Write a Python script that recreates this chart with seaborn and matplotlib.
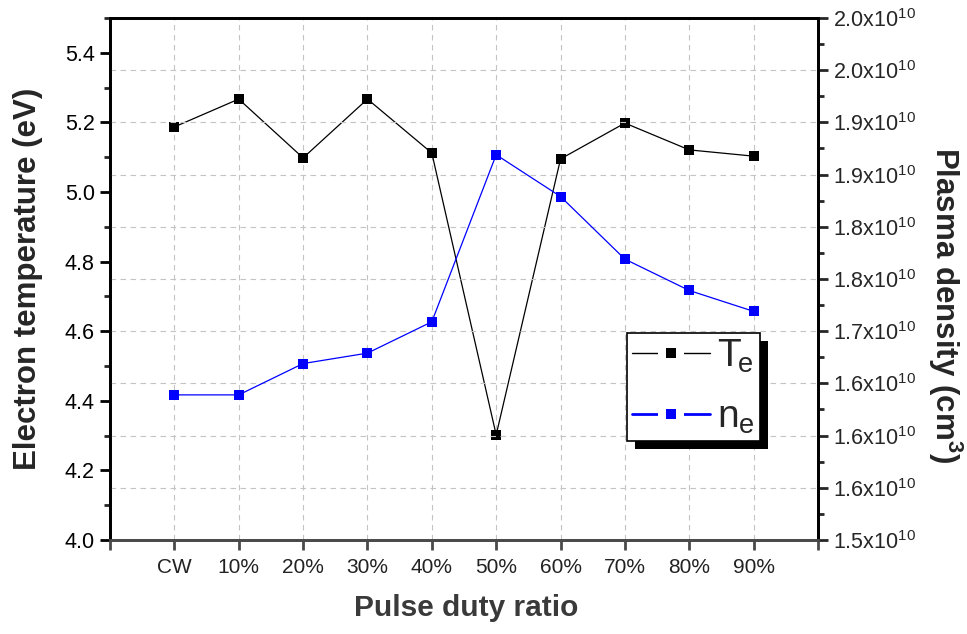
import matplotlib
matplotlib.use("Agg")
import matplotlib.pyplot as plt
import seaborn as sns
import pandas as pd
from matplotlib.patches import Rectangle
from matplotlib.lines import Line2D
from matplotlib.legend_handler import HandlerTuple
from matplotlib.ticker import MultipleLocator, FixedLocator

categories = ["CW", "10%", "20%", "30%", "40%", "50%", "60%", "70%", "80%", "90%"]
te_values = [5.187, 5.267, 5.098, 5.267, 5.112, 4.302, 5.095, 5.198, 5.121, 5.103]
ne_values = [1.639e10, 1.639e10, 1.669e10, 1.679e10, 1.709e10, 1.869e10, 1.829e10, 1.769e10, 1.739e10, 1.719e10]
right_ticks = [1.50e10, 1.55e10, 1.60e10, 1.65e10, 1.70e10, 1.75e10, 1.80e10, 1.85e10, 1.90e10, 1.95e10, 2.00e10]
right_labels = ["1.5", "1.6", "1.6", "1.6", "1.7", "1.8", "1.8", "1.9", "1.9", "2.0", "2.0"]

sns.set_style("white")
plt.rcParams["font.family"] = ["Liberation Sans", "DejaVu Sans"]
plt.rcParams["mathtext.fontset"] = "custom"
plt.rcParams["mathtext.rm"] = "Liberation Sans"
plt.rcParams["mathtext.it"] = "Liberation Sans"
plt.rcParams["mathtext.bf"] = "Liberation Sans:bold"

df = pd.DataFrame({"ratio": categories, "Te": te_values, "ne": ne_values})
df["pos"] = range(len(categories))

fig = plt.figure(figsize=(9.67, 6.34), dpi=100)
ax = fig.add_axes([110/967, 1-540/634, (818-110)/967, (540-18)/634])
ax2 = ax.twinx()

sns.lineplot(data=df, x="pos", y="Te", ax=ax, color="black", marker="s",
             markersize=7.5, markeredgewidth=0, linewidth=0.9, legend=False)
sns.lineplot(data=df, x="pos", y="ne", ax=ax2, color="#0000ff", marker="s",
             markersize=7.5, markeredgewidth=0, linewidth=0.9, legend=False)

ax.set_xlim(-1, len(categories))
ax.set_xticks(range(-1, len(categories) + 1))
ax.set_xticklabels([""] + categories + [""])
ax.set_ylim(4.0, 5.5)
ax.yaxis.set_minor_locator(MultipleLocator(0.1))
ax.set_yticks([4.0, 4.2, 4.4, 4.6, 4.8, 5.0, 5.2, 5.4])

ax2.set_ylim(1.5e10, 2.0e10)
ax2.yaxis.set_major_locator(FixedLocator(right_ticks))
ax2.yaxis.set_minor_locator(FixedLocator([t + 0.025e10 for t in right_ticks[:-1]]))
ax2.set_yticklabels([f"{l}x10$\\mathregular{{^{{10}}}}$" for l in right_labels])

# grid
for xv in range(len(categories)):
    ax.axvline(xv, color="#c4c4c4", linestyle=(0, (5, 4)), linewidth=0.8, zorder=0)
for yv in right_ticks[1:-1]:
    ax2.axhline(yv, color="#c4c4c4", linestyle=(0, (5, 4)), linewidth=0.8, zorder=0)

ax.set_xlabel("Pulse duty ratio", fontsize=21.5, fontweight="bold", color="#3a3a3a")
ax.set_ylabel("Electron temperature (eV)", fontsize=22.5, fontweight="bold")
ax2.set_ylabel("Plasma density (cm$\\mathregular{^{3}}$)", fontsize=22.5, fontweight="bold",
               rotation=270)
for lab in (ax.xaxis.label, ax.yaxis.label, ax2.yaxis.label):
    lab.set_ha("center")
    lab.set_va("center")
ax.xaxis.set_label_coords((466 - 110) / 708, (540 - 608) / 522)
ax.yaxis.set_label_coords((28 - 110) / 708, 0.5)
ax2.yaxis.set_label_coords((945 - 110) / 708, (540 - 305) / 522)

for a in (ax, ax2):
    for s in a.spines.values():
        s.set_linewidth(2.0)
        s.set_color("black")
    a.spines["bottom"].set_color("#4a4a4a")

ax.tick_params(axis="y", which="major", direction="out", length=7, width=2, labelsize=15.5, left=True, right=False, colors="black", pad=4)
ax.tick_params(axis="y", which="minor", direction="out", length=4.5, width=2, left=True, right=False)
ax.tick_params(axis="x", which="major", direction="out", length=7, width=2, labelsize=15, bottom=True, top=False, color="#4a4a4a", labelcolor="#222222", pad=6)
ax2.tick_params(axis="y", which="major", direction="out", length=7, width=2, labelsize=15.5, right=True, left=False, pad=4)
ax2.tick_params(axis="y", which="minor", direction="out", length=4.5, width=2, right=True, left=False)
ax2.set_xlabel("")

# legend keys: line, white gap around a square marker, line (overlaid)
def key(color, lw):
    base = Line2D([], [], color=color, linewidth=lw, marker="s", markersize=19,
                  markerfacecolor="white", markeredgewidth=0)
    mark = Line2D([], [], linestyle="none", marker="s", markersize=7.5,
                  markerfacecolor=color, markeredgewidth=0)
    return (base, mark)

leg = ax2.legend([key("black", 1.0), key("#0000ff", 2.0)],
                 ["$\\mathregular{T_{\\!e}}$", "$\\mathregular{n_e}$"],
                 handler_map={tuple: HandlerTuple(ndivide=1, pad=0)},
                 loc="upper left", bbox_to_anchor=(0.730, 0.397),
                 borderaxespad=0, fancybox=False, framealpha=1, edgecolor="black",
                 fontsize=28, handlelength=2.03, handletextpad=0.18, labelspacing=0.65,
                 borderpad=0.12, numpoints=1)
leg.get_frame().set_linewidth(1.2)
leg.set_zorder(10)

fig.canvas.draw()
bb = leg.get_window_extent()
inv = ax2.transAxes.inverted()
(x0, y0) = inv.transform((bb.x0 + 8, bb.y0 - 8))
(x1, y1) = inv.transform((bb.x1 + 8, bb.y1 - 8))
ax2.add_patch(Rectangle((x0, y0), x1 - x0, y1 - y0, transform=ax2.transAxes,
                        facecolor="black", edgecolor="none", zorder=9, clip_on=False))

fig.savefig("out.png", dpi=100)
